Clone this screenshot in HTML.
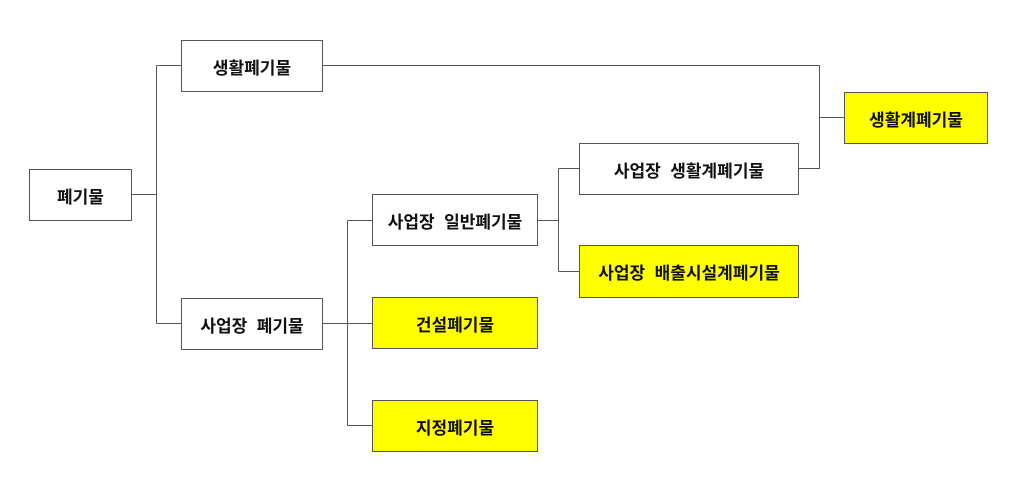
<!DOCTYPE html>
<html><head><meta charset="utf-8"><style>
body{margin:0;background:#fff;width:1024px;height:484px;position:relative;overflow:hidden;font-family:"Liberation Sans","Noto Sans CJK KR",sans-serif;}
.b{position:absolute;box-sizing:border-box;border:1px solid #555;display:flex;align-items:center;justify-content:center;font-size:17px;font-weight:bold;color:#111;background:#fff;white-space:pre;}
.y{background:#ffff00;}
svg{position:absolute;left:0;top:0}
</style></head><body>
<svg width="1024" height="484"><g stroke="#555" stroke-width="1" fill="none">
<path d="M131 194.5H156.5M156.5 65.5V323.5M156.5 65.5H181M156.5 323.5H181"/>
<path d="M322 65.5H819.5V168.5H798M819.5 117.5H844"/>
<path d="M322 323.5H372M347.5 220.5V425.5M347.5 220.5H372M347.5 425.5H372"/>
<path d="M537 220.5H558.5M558.5 168.5V271.5M558.5 168.5H579M558.5 271.5H579"/>
</g></svg>
<div class="b" style="left:29px;top:169px;width:103px;height:52px">폐기물</div>
<div class="b" style="left:181px;top:40px;width:142px;height:52px">생활폐기물</div>
<div class="b" style="left:181px;top:298px;width:142px;height:52px">사업장  폐기물</div>
<div class="b" style="left:372px;top:194px;width:166px;height:52px">사업장  일반폐기물</div>
<div class="b y" style="left:372px;top:297px;width:166px;height:52px">건설폐기물</div>
<div class="b y" style="left:372px;top:400px;width:166px;height:52px">지정폐기물</div>
<div class="b" style="left:579px;top:143px;width:220px;height:52px">사업장  생활계폐기물</div>
<div class="b y" style="left:579px;top:245px;width:220px;height:53px">사업장  배출시설계폐기물</div>
<div class="b y" style="left:844px;top:92px;width:144px;height:52px">생활계폐기물</div>
</body></html>
